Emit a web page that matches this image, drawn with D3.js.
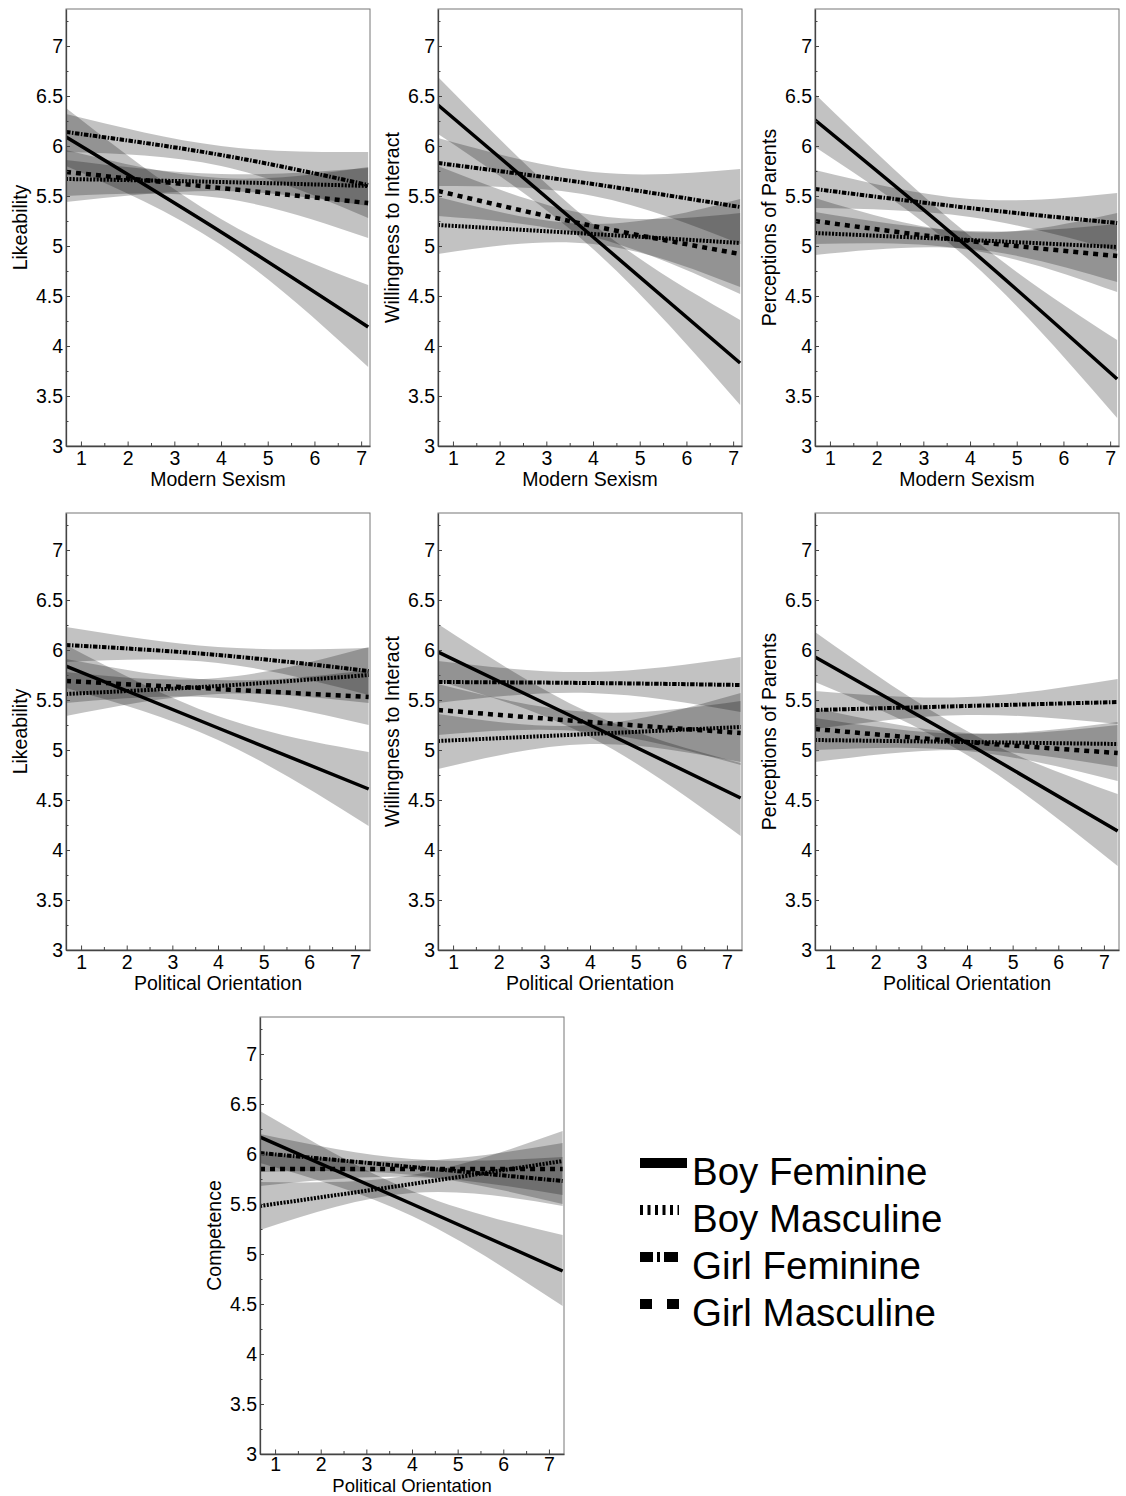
<!DOCTYPE html>
<html>
<head>
<meta charset="utf-8">
<script src="https://cdn.jsdelivr.net/npm/d3@7"></script>
<style>
body { margin: 0; background: #fff; }
</style>
</head>
<body>
<script>
const width = 1126;
const height = 1496;

const seriesNames = ["Boy Feminine", "Boy Masculine", "Girl Feminine", "Girl Masculine"];

// x positions where the fitted values / bands were read (left edge, 4, right edge)
const xSexism = [0.68, 4, 7.15];
const xPolitical = [0.67, 4, 7.3];
const sexismDomain = [0.68, 7.19];
const politicalDomain = [0.67, 7.33];

const yTicks = [3, 3.5, 4, 4.5, 5, 5.5, 6, 6.5, 7];
const xTicks = [1, 2, 3, 4, 5, 6, 7];

// rows = Boy Feminine, Boy Masculine, Girl Feminine, Girl Masculine
const likeSexismFit  = [[6.09, 5.14, 4.19], [5.67, 5.64, 5.60], [6.14, 5.91, 5.61], [5.74, 5.58, 5.43]];
const likeSexismLow  = [[5.80, 5.01, 3.79], [5.44, 5.55, 5.40], [5.94, 5.80, 5.28], [5.50, 5.48, 5.08]];
const likeSexismHigh = [[6.38, 5.27, 4.61], [5.86, 5.72, 5.78], [6.32, 6.00, 5.94], [5.96, 5.68, 5.79]];

const willSexismFit  = [[6.41, 5.09, 3.83], [5.21, 5.12, 5.03], [5.83, 5.62, 5.39], [5.55, 5.20, 4.92]];
const willSexismLow  = [[6.12, 4.97, 3.41], [4.92, 5.02, 4.59], [5.60, 5.50, 5.02], [5.30, 5.09, 4.52]];
const willSexismHigh = [[6.69, 5.22, 4.26], [5.49, 5.22, 5.47], [6.08, 5.74, 5.77], [5.80, 5.31, 5.33]];

const parentSexismFit  = [[6.26, 4.97, 3.67], [5.13, 5.06, 4.99], [5.57, 5.38, 5.23], [5.25, 5.05, 4.90]];
const parentSexismLow  = [[5.99, 4.85, 3.28], [4.91, 4.97, 4.64], [5.38, 5.29, 4.95], [5.02, 4.96, 4.54]];
const parentSexismHigh = [[6.52, 5.10, 4.06], [5.34, 5.15, 5.22], [5.76, 5.47, 5.53], [5.48, 5.14, 5.33]];

const likePoliticalFit  = [[5.84, 5.22, 4.61], [5.56, 5.64, 5.75], [6.05, 5.95, 5.79], [5.69, 5.61, 5.53]];
const likePoliticalLow  = [[5.62, 5.10, 4.24], [5.34, 5.56, 5.47], [5.88, 5.87, 5.55], [5.47, 5.52, 5.25]];
const likePoliticalHigh = [[6.05, 5.34, 4.98], [5.78, 5.72, 6.03], [6.23, 6.03, 6.02], [5.91, 5.70, 5.80]];

const willPoliticalFit  = [[5.98, 5.25, 4.52], [5.09, 5.16, 5.23], [5.68, 5.67, 5.65], [5.40, 5.28, 5.17]];
const willPoliticalLow  = [[5.69, 5.13, 4.14], [4.81, 5.06, 4.88], [5.47, 5.57, 5.38], [5.15, 5.18, 4.85]];
const willPoliticalHigh = [[6.26, 5.37, 4.87], [5.36, 5.25, 5.57], [5.89, 5.78, 5.93], [5.66, 5.38, 5.49]];

const parentPoliticalFit  = [[5.93, 5.07, 4.19], [5.10, 5.08, 5.06], [5.40, 5.44, 5.48], [5.21, 5.08, 4.97]];
const parentPoliticalLow  = [[5.68, 4.95, 3.84], [4.88, 5.00, 4.83], [5.21, 5.35, 5.26], [5.00, 4.99, 4.69]];
const parentPoliticalHigh = [[6.18, 5.19, 4.56], [5.32, 5.16, 5.28], [5.59, 5.53, 5.71], [5.42, 5.17, 5.25]];

const compPoliticalFit  = [[6.17, 5.50, 4.83], [5.48, 5.70, 5.93], [6.01, 5.87, 5.73], [5.85, 5.85, 5.85]];
const compPoliticalLow  = [[5.91, 5.38, 4.48], [5.24, 5.61, 5.48], [5.82, 5.79, 5.50], [5.68, 5.77, 5.59]];
const compPoliticalHigh = [[6.43, 5.63, 5.19], [5.72, 5.79, 6.23], [6.20, 5.95, 5.97], [6.02, 5.93, 6.11]];

// line styles: solid, dotted, dash-dot, dashed
const lineDash = [null, "2,1.4", "4.5,1.5,1.5,1.5", "5,5"];
const lineWidth = [3.5, 4, 4, 4.5];

const panelW = 304;
const panelH = 437;
const font = "'Liberation Sans', Arial, Helvetica, sans-serif";

const panels = [
    {left: 66,  top: 9,    xs: xSexism, dom: sexismDomain, xLabel: "Modern Sexism", yLabel: "Likeability", fit: likeSexismFit, lo: likeSexismLow, hi: likeSexismHigh},
    {left: 438, top: 9,    xs: xSexism, dom: sexismDomain, xLabel: "Modern Sexism", yLabel: "Willingness to Interact", fit: willSexismFit, lo: willSexismLow, hi: willSexismHigh},
    {left: 815, top: 9,    xs: xSexism, dom: sexismDomain, xLabel: "Modern Sexism", yLabel: "Perceptions of Parents", fit: parentSexismFit, lo: parentSexismLow, hi: parentSexismHigh},
    {left: 66,  top: 513,  xs: xPolitical, dom: politicalDomain, xLabel: "Political Orientation", yLabel: "Likeability", fit: likePoliticalFit, lo: likePoliticalLow, hi: likePoliticalHigh},
    {left: 438, top: 513,  xs: xPolitical, dom: politicalDomain, xLabel: "Political Orientation", yLabel: "Willingness to Interact", fit: willPoliticalFit, lo: willPoliticalLow, hi: willPoliticalHigh},
    {left: 815, top: 513,  xs: xPolitical, dom: politicalDomain, xLabel: "Political Orientation", yLabel: "Perceptions of Parents", fit: parentPoliticalFit, lo: parentPoliticalLow, hi: parentPoliticalHigh},
    {left: 260, top: 1017, xs: xPolitical, dom: politicalDomain, xLabel: "Political Orientation", yLabel: "Competence", fit: compPoliticalFit, lo: compPoliticalLow, hi: compPoliticalHigh}
];

const svg = d3.select("body")
    .append("svg")
    .attr("width", width)
    .attr("height", height)
    .style("font-family", font);

panels.forEach((p, k) => drawPanel(p, k));
drawLegend();

function drawPanel(p, k) {
    // the last row sits right at the page bottom, so it gets a tighter x title
    const tight = p.top + panelH + 40 > height - 6;

    const g = svg.append("g")
        .attr("transform", `translate(${p.left},${p.top})`);

    const x = d3.scaleLinear().domain(p.dom).range([0, panelW]);
    const y = d3.scaleLinear().domain([3, 7.37]).range([panelH, 0]);

    g.append("clipPath")
        .attr("id", "clip" + k)
        .append("rect")
        .attr("width", panelW)
        .attr("height", panelH);

    const plot = g.append("g").attr("clip-path", `url(#clip${k})`);
    const idx = d3.range(p.xs.length);

    // confidence bands first, all semi transparent so overlaps get darker
    seriesNames.forEach((name, s) => {
        const area = d3.area()
            .x(i => x(p.xs[i]))
            .y0(i => y(p.lo[s][i]))
            .y1(i => y(p.hi[s][i]))
            .curve(d3.curveNatural);
        plot.append("path")
            .attr("d", area(idx))
            .attr("fill", "#000")
            .attr("fill-opacity", 0.24);
    });

    seriesNames.forEach((name, s) => {
        const line = d3.line()
            .x(i => x(p.xs[i]))
            .y(i => y(p.fit[s][i]))
            .curve(d3.curveNatural);
        plot.append("path")
            .attr("d", line(idx))
            .attr("fill", "none")
            .attr("stroke", "#000")
            .attr("stroke-width", lineWidth[s])
            .attr("stroke-dasharray", lineDash[s]);
    });

    g.append("rect")
        .attr("width", panelW)
        .attr("height", panelH)
        .attr("fill", "none")
        .attr("stroke", "#777")
        .attr("stroke-width", 1);

    // minor ticks
    g.append("g")
        .call(d3.axisLeft(y).tickValues(d3.range(3.25, 7.3, 0.5)).tickSize(-2.5).tickFormat(""))
        .call(a => a.select(".domain").remove())
        .selectAll("line").attr("stroke", "#444");
    g.append("g")
        .attr("transform", `translate(0,${panelH})`)
        .call(d3.axisBottom(x).tickValues(d3.range(1.5, 7, 1)).tickSize(-3).tickFormat(""))
        .call(a => a.select(".domain").remove())
        .selectAll("line").attr("stroke", "#444");

    const yAxis = g.append("g")
        .call(d3.axisLeft(y).tickValues(yTicks).tickSizeInner(-4).tickSizeOuter(0).tickPadding(3).tickFormat(d3.format("~g")));
    const xAxis = g.append("g")
        .attr("transform", `translate(0,${panelH})`)
        .call(d3.axisBottom(x).tickValues(xTicks).tickSizeInner(-4.5).tickSizeOuter(0).tickPadding(tight ? 3 : 5).tickFormat(d3.format("d")));

    [yAxis, xAxis].forEach(a => {
        a.select(".domain").attr("stroke", "#444").attr("stroke-width", 1.3);
        a.selectAll("line").attr("stroke", "#444");
        a.selectAll("text")
            .attr("fill", "#000")
            .style("font-size", "19.5px")
            .style("font-family", font);
    });

    g.append("text")
        .attr("x", panelW / 2)
        .attr("y", tight ? height - p.top - 4 : panelH + 40)
        .attr("text-anchor", "middle")
        .attr("font-size", tight ? "18.5px" : "19.5px")
        .text(p.xLabel);

    g.append("text")
        .attr("transform", `translate(-39,${panelH / 2}) rotate(-90)`)
        .attr("text-anchor", "middle")
        .attr("font-size", "19.5px")
        .text(p.yLabel);
}

function drawLegend() {
    const legendDash = [null, "3,4.5", "13,4,3,4,14", "12,15"];
    const legendEnd = [687, 679, 679, 679];
    const lg = svg.append("g").attr("class", "legend");

    seriesNames.forEach((name, s) => {
        const base = 1185 + s * 47;
        lg.append("line")
            .attr("x1", 640)
            .attr("x2", legendEnd[s])
            .attr("y1", base - 22)
            .attr("y2", base - 22)
            .attr("stroke", "#000")
            .attr("stroke-width", 10)
            .attr("stroke-dasharray", legendDash[s]);
        lg.append("text")
            .attr("x", 692)
            .attr("y", base)
            .attr("font-size", "38.5px")
            .text(name);
    });
}
</script>
</body>
</html>
